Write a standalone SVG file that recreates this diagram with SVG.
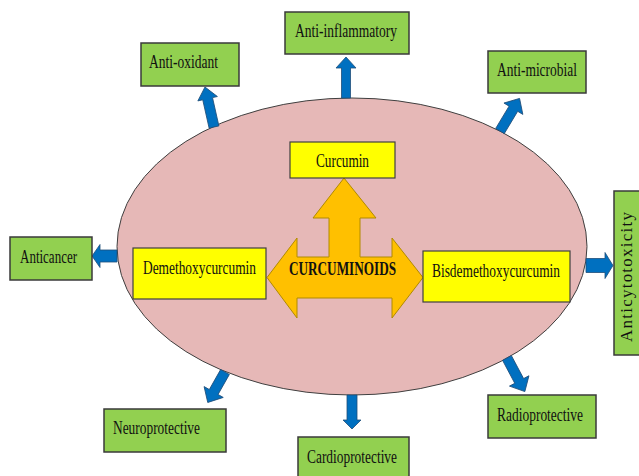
<svg xmlns="http://www.w3.org/2000/svg" width="639" height="476" viewBox="0 0 639 476">
<style>
.bg{fill:#E6B8B7;stroke:#3F3F3F;stroke-width:1}
.g{fill:#92D050;stroke:#3A3A3A;stroke-width:1.5}
.y{fill:#FFFF00;stroke:#404040;stroke-width:1.2}
.o{fill:#FFC000;stroke:#B08A00;stroke-width:1}
.b{fill:#0070C0;stroke:#1F4E79;stroke-width:0.8}
text{font-family:"Liberation Serif","Times New Roman",serif;fill:#111;text-anchor:middle}
.t16{font-size:18px}
.t18{font-size:19px}
.bold{font-size:19px;font-weight:bold}
</style>
<rect width="639" height="476" fill="#FFFFFF"/>
<g id="ellipse">
<ellipse class="bg" cx="352" cy="246.5" rx="235" ry="148.5"/>
</g>
<g id="connectors">
<polygon class="b" transform="translate(346,98) rotate(-90)" points="0,-4.5 30,-4.5 30,-10 41,0 30,10 30,4.5 0,4.5"/>
<polygon class="b" transform="translate(214,127) rotate(-102.7)" points="0,-5 29,-5 29,-10 41,0 29,10 29,5 0,5"/>
<polygon class="b" transform="translate(500,131) rotate(-59)" points="0,-5 26,-5 26,-11 38,0 26,11 26,5 0,5"/>
<polygon class="b" transform="translate(117,256) rotate(180)" points="0,-6 17,-6 17,-11.5 25,0 17,11.5 17,6 0,6"/>
<polygon class="b" transform="translate(586,265.5)" points="0,-7 19,-7 19,-13 27,0 19,13 19,7 0,7"/>
<polygon class="b" transform="translate(225,372) rotate(119.5)" points="0,-5 23,-5 23,-11 35,0 23,11 23,5 0,5"/>
<polygon class="b" transform="translate(352,395) rotate(90)" points="0,-5 25,-5 25,-9 34,0 25,9 25,5 0,5"/>
<polygon class="b" transform="translate(507,358) rotate(62)" points="0,-5 26,-5 26,-11 38,0 26,11 26,5 0,5"/>
</g>
<g id="curcuminoids">
<polygon class="o" points="344,178 376,218 360,218 360,257 392,257 392,238 423,277.5 392,318 392,298 297,298 297,318 267,277.5 297,238 297,257 329,257 329,218 313,218"/>
<text class="bold" x="342.5" y="275" textLength="107" lengthAdjust="spacingAndGlyphs">CURCUMINOIDS</text>
</g>
<g id="curcumin">
<rect class="y" x="290" y="142" width="105" height="36"/>
<text class="t18" x="342.5" y="167" textLength="53" lengthAdjust="spacingAndGlyphs">Curcumin</text>
</g>
<g id="demethoxycurcumin">
<rect class="y" x="133" y="248" width="133" height="51"/>
<text class="t18" x="199.5" y="274" textLength="113" lengthAdjust="spacingAndGlyphs">Demethoxycurcumin</text>
</g>
<g id="bisdemethoxycurcumin">
<rect class="y" x="423" y="251" width="147" height="51"/>
<text class="t18" x="496" y="277" textLength="128" lengthAdjust="spacingAndGlyphs">Bisdemethoxycurcumin</text>
</g>
<g id="anti-inflammatory">
<rect class="g" x="285" y="12" width="124" height="42"/>
<text class="t16" x="346" y="37" textLength="102" lengthAdjust="spacingAndGlyphs">Anti-inflammatory</text>
</g>
<g id="anti-oxidant">
<rect class="g" x="141" y="43" width="98" height="43"/>
<text class="t16" x="183.5" y="68" textLength="69" lengthAdjust="spacingAndGlyphs">Anti-oxidant</text>
</g>
<g id="anti-microbial">
<rect class="g" x="488" y="51" width="98" height="42"/>
<text class="t16" x="537" y="76" textLength="80" lengthAdjust="spacingAndGlyphs">Anti-microbial</text>
</g>
<g id="anticancer">
<rect class="g" x="10" y="237" width="82" height="43"/>
<text class="t16" x="48.5" y="263" textLength="57" lengthAdjust="spacingAndGlyphs">Anticancer</text>
</g>
<g id="anticytotoxicity">
<rect class="g" x="614" y="191" width="32" height="164"/>
<text style="font-size:17px" transform="translate(632,277) rotate(-90)" textLength="130" lengthAdjust="spacing">Anticytotoxicity</text>
</g>
<g id="neuroprotective">
<rect class="g" x="104" y="409" width="122" height="43"/>
<text class="t16" x="156.5" y="434" textLength="87" lengthAdjust="spacingAndGlyphs">Neuroprotective</text>
</g>
<g id="cardioprotective">
<rect class="g" x="298" y="437" width="111" height="45"/>
<text class="t16" x="352" y="463" textLength="90" lengthAdjust="spacingAndGlyphs">Cardioprotective</text>
</g>
<g id="radioprotective">
<rect class="g" x="488" y="395" width="108" height="43"/>
<text class="t16" x="540" y="421" textLength="86" lengthAdjust="spacingAndGlyphs">Radioprotective</text>
</g>
</svg>
